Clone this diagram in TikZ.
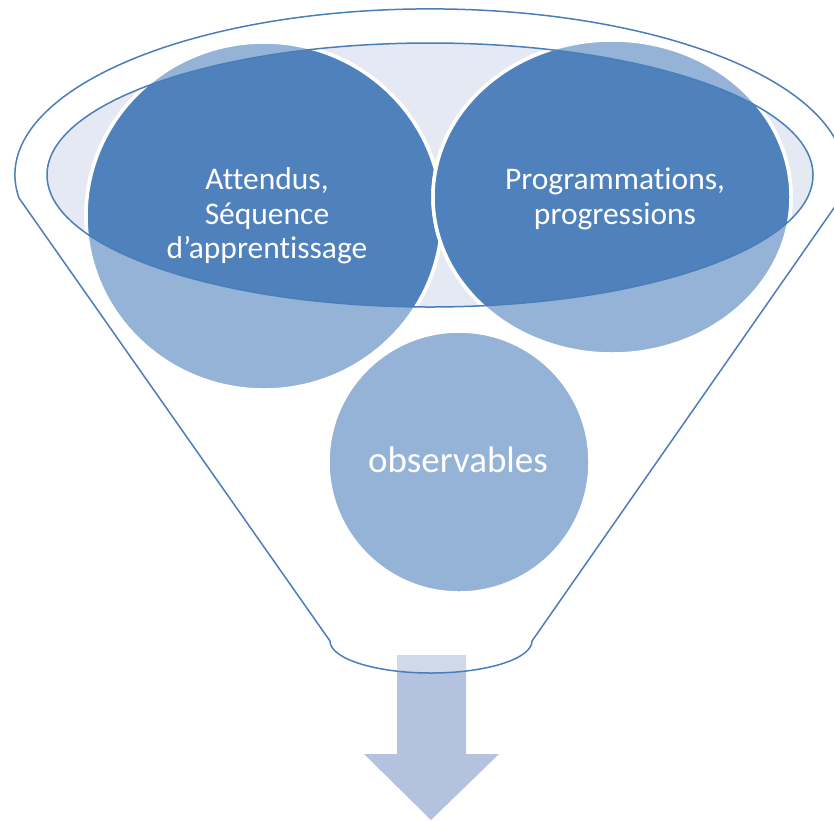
\documentclass[tikz,border=0pt]{standalone}
\usepackage{fontspec}
\setmainfont[Ligatures=NoCommon]{Carlito}
\definecolor{dark}{HTML}{4F81BD}
\definecolor{light}{HTML}{95B3D7}
\definecolor{ellfill}{HTML}{E4E9F3}
\definecolor{arrowfill}{HTML}{B3C2DE}
\definecolor{arrowtop}{HTML}{D0D9EA}
\definecolor{edge}{HTML}{4A7EBB}
\begin{document}
\begin{tikzpicture}[x=1pt,y=-1pt,
  outline/.style={draw=edge,line width=1.5pt},
  bubble/.style={fill=light,draw=white,line width=3.5pt},
  bubbledark/.style={fill=dark,draw=white,line width=3.5pt},
  label/.style={text=white,align=center,font=\fontsize{31.5}{34.5}\selectfont,inner sep=0pt}]
\useasboundingbox (0,0) rectangle (834,820);
\clip (0,0) rectangle (834,820);
\coordinate (c1) at (264,216);
\coordinate (c2) at (612,197);
\coordinate (c3) at (459,462);
\coordinate (ec) at (430,175);
\def\funnelpath{(19,198) arc[start angle=172,end angle=368,x radius=415,y radius=166] -- (532,641) arc[start angle=0,end angle=180,x radius=101,y radius=32] -- cycle}
% arrow
\fill[arrowfill] (397,659) -- (466,659) -- (466,754) -- (499,754) -- (431,820) -- (364,754) -- (397,754) -- cycle;
\begin{scope}
\clip \funnelpath;
\fill[arrowtop] (397,655) rectangle (466,700);
\end{scope}
% funnel outline
\draw[outline] \funnelpath;
% inner ellipse
\fill[ellfill] (ec) ellipse[x radius=383,y radius=132];
% circle 1
\path[bubble] (c1) ellipse[x radius=178,y radius=174];
\begin{scope}
\clip (ec) ellipse[x radius=383,y radius=132];
\path[bubbledark] (c1) ellipse[x radius=178,y radius=174];
\end{scope}
% circle 2
\path[bubble] (c2) ellipse[x radius=179,y radius=157];
\begin{scope}
\clip (ec) ellipse[x radius=383,y radius=132];
\path[bubbledark] (c2) ellipse[x radius=179,y radius=157];
\end{scope}
% circle 3
\path[bubble] (c3) circle[radius=131];
% inner ellipse outline
\draw[outline] (ec) ellipse[x radius=383,y radius=132];
% texts
\node[label] (t1) at (267,216) {Attendus,\\Séquence\\d’apprentissage};
\node[label] (t2) at (615,199) {Programmations,\\progressions};
\node[label,font=\fontsize{37}{40}\selectfont] (t3) at (458,460) {observables};
\end{tikzpicture}
\end{document}
